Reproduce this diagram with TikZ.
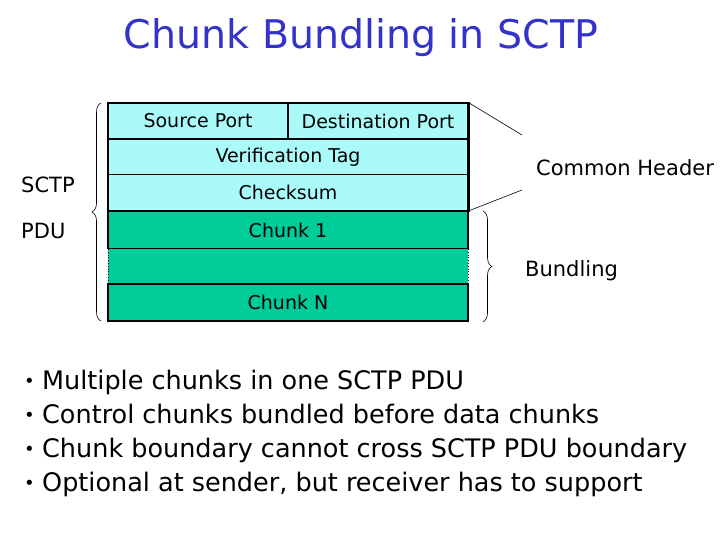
\documentclass[tikz,border=0pt]{standalone}
\usepackage{fontspec}
\setmainfont{DejaVu Sans}
\usetikzlibrary{decorations.pathreplacing}

\definecolor{hdrcyan}{RGB}{170,250,250}
\definecolor{chunkgreen}{RGB}{0,204,153}
\definecolor{titleblue}{RGB}{51,51,204}

\tikzset{
  hdrcell/.style={draw, line width=1.2pt, fill=hdrcyan, minimum height=35.5pt,
    inner sep=0pt, font=\fontsize{19}{21}\selectfont},
  chunkcell/.style={draw, line width=1.6pt, fill=chunkgreen, minimum width=360pt,
    minimum height=37pt, inner sep=0pt, font=\fontsize{19}{21}\selectfont},
  sidelabel/.style={anchor=base west, inner sep=0pt, font=\fontsize{21}{23}\selectfont},
  bullettext/.style={anchor=base west, inner sep=0pt, font=\fontsize{25.5}{28}\selectfont},
  pdubrace/.style={decorate, decoration={brace, amplitude=9pt}, line width=0.6pt}
}

\begin{document}
\begin{tikzpicture}[x=1pt, y=-1pt]
    \useasboundingbox (0,0) rectangle (720,540);

    \node[text=titleblue, font=\fontsize{39.5}{42}\selectfont] (title) at (361,38) {Chunk Bundling in SCTP};

    % common header
    \node[hdrcell, minimum width=180pt] (sport) at (198,121) {Source Port};
    \node[hdrcell, minimum width=180pt] (dport) at (378,121) {Destination Port};
    \node[hdrcell, minimum width=360pt] (vtag) at (288,157) {Verification Tag};
    \node[hdrcell, minimum width=360pt] (csum) at (288,192.5) {Checksum};

    % chunks
    \fill[chunkgreen] (108,249) rectangle (468,284);
    \draw[dotted, line width=0.8pt] (108,249) -- (108,284);
    \draw[dotted, line width=0.8pt] (468,249) -- (468,284);
    \node[chunkcell] (chunk1) at (288,230) {Chunk 1};
    \node[chunkcell] (chunkn) at (288,302.5) {Chunk N};
    \draw[line width=1.8pt] (sport.north west) rectangle (csum.south east);

    % left brace
    \coordinate (pdutop) at (101,103);
    \coordinate (pdubot) at (101,321);
    \draw[pdubrace] (pdubot) -- (pdutop);
    \node[sidelabel] (sctp) at (21,193) {SCTP};
    \node[sidelabel] (pdu) at (21,238) {PDU};

    % right side
    \coordinate (chtop) at (522,135);
    \coordinate (chbot) at (522,190);
    \draw[line width=0.6pt] (dport.north east) -- (chtop);
    \draw[line width=0.6pt] (csum.south east) -- (chbot);
    \node[sidelabel] (common) at (536,176) {Common Header};

    \coordinate (bndtop) at (483,211);
    \coordinate (bndbot) at (483,322);
    \draw[pdubrace] (bndtop) -- (bndbot);
    \node[sidelabel] (bundling) at (525,276) {Bundling};

    % bullet list
    \foreach \y/\txt in {
        389/Multiple chunks in one SCTP PDU,
        423/Control chunks bundled before data chunks,
        457/Chunk boundary cannot cross SCTP PDU boundary,
        491/{Optional at sender, but receiver has to support}
      } {
        \node[bullettext, font=\fontsize{18}{20}\selectfont] at (24,\y-2) {\textbullet};
        \node[bullettext] at (42,\y) {\txt};
      }
  \end{tikzpicture}
\end{document}
